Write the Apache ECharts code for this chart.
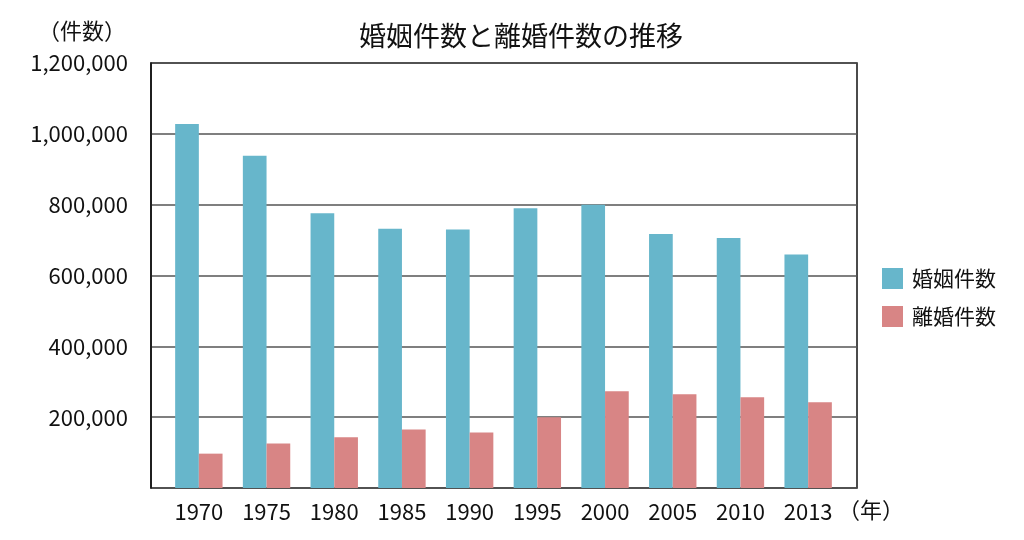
<!DOCTYPE html>
<html>
<head>
<meta charset="utf-8">
<script src="https://cdn.jsdelivr.net/npm/echarts@6/dist/echarts.min.js"></script>
<style>
  html, body { margin: 0; padding: 0; background: #fff; }
  #chart { width: 1024px; height: 540px; }
</style>
</head>
<body>
<div id="chart"></div>
<script>
const years = ['1970', '1975', '1980', '1985', '1990', '1995', '2000', '2005', '2010', '2013'];
const marriages = [1028000, 938000, 776000, 732000, 730000, 790000, 800000, 717000, 706000, 659000];
const divorces = [97000, 126000, 143000, 165000, 157000, 200000, 273000, 265000, 256000, 242000];
const seriesNames = ['婚姻件数', '離婚件数'];

const font = '"Noto Sans CJK JP", "Noto Sans", sans-serif';
const chart = echarts.init(document.getElementById('chart'));

chart.setOption({
  backgroundColor: '#fff',
  animation: false,
  title: {
    text: '婚姻件数と離婚件数の推移',
    left: 516,
    top: 17,
    textAlign: 'center',
    textStyle: { fontFamily: font, fontSize: 27, fontWeight: 'normal', color: '#111' }
  },
  legend: {
    orient: 'vertical',
    left: 877,
    top: 263,
    itemWidth: 21,
    itemHeight: 21,
    itemGap: 17,
    icon: 'rect',
    data: seriesNames,
    textStyle: { fontFamily: font, fontSize: 21, color: '#111', padding: [0, 0, 0, 4] }
  },
  graphic: [
    { type: 'text', left: 38, top: 20, style: { text: '（件数）', font: '22px ' + font, fill: '#111' } },
    { type: 'text', left: 838, top: 499, style: { text: '（年）', font: '22px ' + font, fill: '#111' } }
  ],
  grid: [
    { left: 151, right: 167, top: 63, bottom: 52, show: true, borderColor: '#111', borderWidth: 1.5, backgroundColor: 'transparent' },
    { left: 165, right: 182, top: 63, bottom: 52 }
  ],
  xAxis: [
    { gridIndex: 0, type: 'category', data: years, show: false },
    {
      gridIndex: 1,
      type: 'category',
      data: years,
      axisLine: { show: false },
      axisTick: { show: false },
      axisLabel: { margin: 13, fontFamily: font, fontSize: 22, color: '#111' }
    }
  ],
  yAxis: [
    {
      gridIndex: 0,
      type: 'value',
      min: 0,
      max: 1200000,
      interval: 200000,
      axisLine: { show: true, lineStyle: { color: '#111', width: 1.5 } },
      axisTick: { show: false },
      splitLine: { lineStyle: { color: '#555', width: 1.5 } },
      axisLabel: {
        margin: 23,
        fontFamily: font,
        fontSize: 22,
        color: '#111',
        formatter: v => v === 0 ? '' : v.toLocaleString('en-US')
      }
    },
    { gridIndex: 1, type: 'value', min: 0, max: 1200000, show: false, splitLine: { show: false } }
  ],
  series: [
    {
      name: seriesNames[0],
      type: 'bar',
      xAxisIndex: 1,
      yAxisIndex: 1,
      data: marriages,
      barGap: '0%',
      barCategoryGap: '30%',
      itemStyle: { color: '#67b6cb' }
    },
    {
      name: seriesNames[1],
      type: 'bar',
      xAxisIndex: 1,
      yAxisIndex: 1,
      data: divorces,
      itemStyle: { color: '#d88585' }
    }
  ]
});
</script>
</body>
</html>
